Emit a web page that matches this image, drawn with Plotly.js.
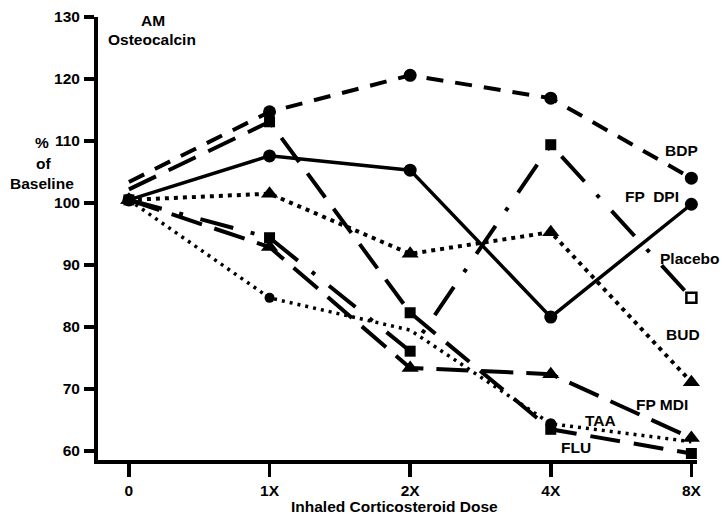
<!DOCTYPE html>
<html>
<head>
<meta charset="utf-8">
<script src="https://cdn.plot.ly/plotly-3.0.1.min.js"></script>
<style>html,body{margin:0;padding:0;background:#fff}#chart{width:722px;height:517px}</style>
</head>
<body>
<div id="chart"></div>
<script>
// ---- data ----
var doses = ['0', '1X', '2X', '4X', '8X'];
var bdp     = [103.4, 114.7, 120.6, 116.9, 104.0];
var fpDpi   = [100.5, 107.6, 105.3, 81.6, 99.8];
var placebo = [100.5, 94.4, 76.1, 109.4, 84.7];
var bud     = [100.5, 101.5, 91.8, 95.3, 71.1];
var fpMdi   = [100.5, 92.9, 73.4, 72.4, 62.1];
var taa     = [100.5, 84.7, 79.5, 64.4, 61.5];
var flu     = [102.2, 113.1, 82.3, 63.5, 59.6];
var yTicks  = [60, 70, 80, 90, 100, 110, 120, 130];

var FONT = 'Liberation Sans, Arial, Helvetica, sans-serif';
var FS = 15.5;
var W = 722, H = 517, L = 98, R = 25, T = 17, B = 57;
function px(x) { return (x - L) / (W - L - R); }
function py(y) { return (H - B - y) / (H - T - B); }

function tr(name, y, dash, width, symbol, msize, mcolor) {
  return {
    type: 'scatter', mode: 'lines+markers', name: name, x: doses, y: y,
    line: {color: '#000', width: width, dash: dash},
    marker: {color: mcolor || '#000', symbol: symbol, size: msize, opacity: 1,
             line: {color: '#000', width: 0}},
    cliponaxis: false
  };
}

var data = [
  tr('BDP', bdp, '17px,12px', 4, 'circle', [0, 13, 13, 13, 13]),
  tr('FP DPI', fpDpi, 'solid', 3.5, 'circle', 13),
  tr('Placebo', placebo, '34px,18px,4px,18px', 4, 'square', 11),
  tr('BUD', bud, '4px,5px', 4, 'triangle-up', 15),
  tr('FP MDI', fpMdi, '32px,13px', 4, 'triangle-up', 15),
  tr('TAA', taa, '3px,5px', 3.5, 'circle', [10, 10, 0, 11, 0]),
  tr('FLU', flu, '30px,14px', 4, 'square', [0, 11, 11, 11, 11])
];
// open square for the last placebo point
data[2].marker.color = ['#000', '#000', '#000', '#000', '#fff'];
data[2].marker.size = [11, 11, 11, 11, 10];
data[2].marker.line = {color: '#000', width: [0, 0, 0, 0, 2.5]};

function lab(text, x, y) {
  return {text: text, x: px(x), y: py(y), xref: 'paper', yref: 'paper', showarrow: false,
    xanchor: 'center', yanchor: 'middle',
    font: {family: FONT, size: FS, color: '#000', weight: 700}};
}

var annotations = [
  lab('AM', 153, 21),
  lab('Osteocalcin', 152, 39),
  lab('%', 42, 142),
  lab('of', 43, 163),
  lab('Baseline', 42, 183),
  lab('BDP', 681, 150),
  lab('FP  DPI', 652, 196),
  lab('Placebo', 689, 258),
  lab('BUD', 683, 334),
  lab('FP MDI', 662, 404),
  lab('TAA', 600, 420),
  lab('FLU', 576, 447),
  lab('Inhaled Corticosteroid Dose', 394, 506)
];

var layout = {
  width: W, height: H,
  margin: {l: L, r: R, t: T, b: B, pad: 0},
  paper_bgcolor: '#fff', plot_bgcolor: '#fff',
  showlegend: false,
  font: {family: FONT, size: FS, color: '#000'},
  xaxis: {
    type: 'category', categoryarray: doses, range: [-0.22, 4.04],
    showgrid: false, zeroline: false, showline: true, linecolor: '#000', linewidth: 4,
    ticks: 'outside', ticklen: 13, tickwidth: 3.5, tickcolor: '#000',
    ticklabelstandoff: 0,
    tickfont: {family: FONT, size: FS, color: '#000', weight: 700}
  },
  yaxis: {
    range: [58.55, 130], tickvals: yTicks, ticktext: yTicks.map(String),
    showgrid: false, zeroline: false, showline: true, linecolor: '#000', linewidth: 4,
    ticks: 'outside', ticklen: 10, tickwidth: 3.5, tickcolor: '#000',
    ticklabelstandoff: 1,
    tickfont: {family: FONT, size: FS, color: '#000', weight: 700}
  },
  annotations: annotations
};

Plotly.newPlot('chart', data, layout, {staticPlot: true, displayModeBar: false});
</script>
</body>
</html>
